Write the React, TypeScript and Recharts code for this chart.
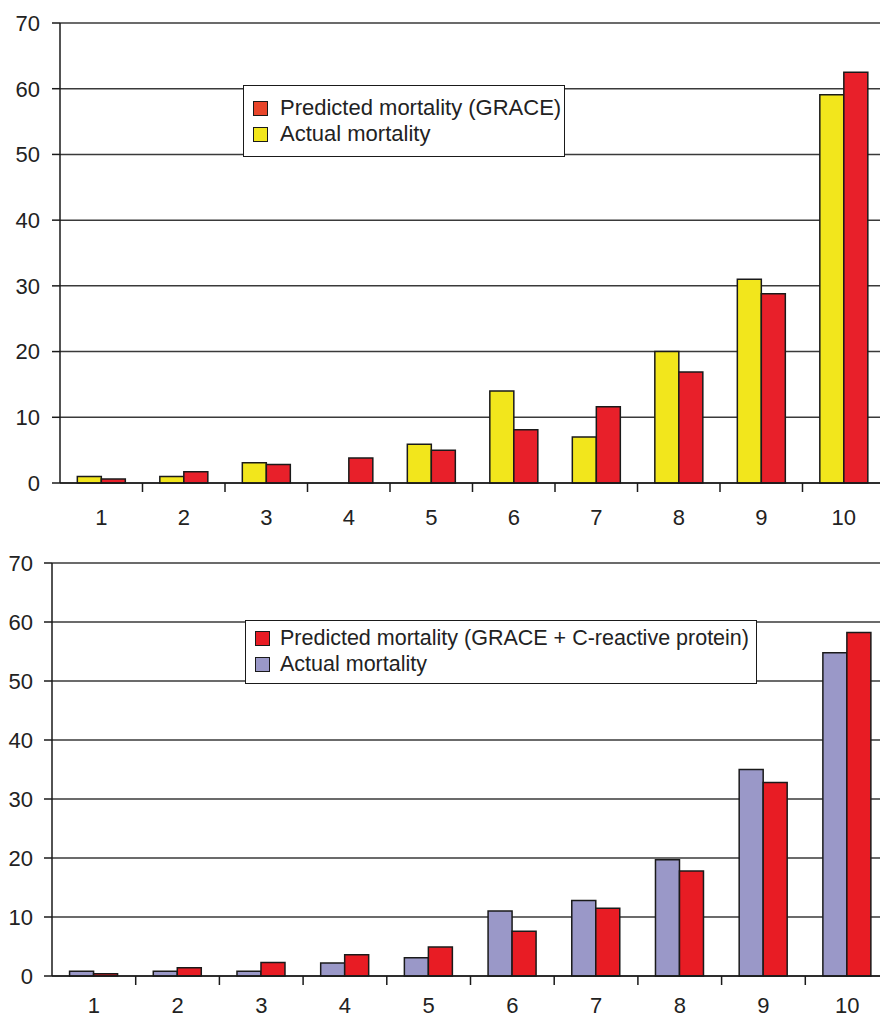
import React from "react";
import { BarChart, Bar, XAxis, YAxis, CartesianGrid, Legend } from "recharts";

// deciles of risk
const DECILES = ["1", "2", "3", "4", "5", "6", "7", "8", "9", "10"];

// top panel: GRACE alone
const GRACE_PREDICTED = [0.6, 1.7, 2.8, 3.8, 5.0, 8.1, 11.6, 16.9, 28.8, 62.5];
const GRACE_ACTUAL = [1.0, 1.0, 3.1, 0, 5.9, 14.0, 7.0, 20.0, 31.0, 59.1];

// bottom panel: GRACE + CRP
const CRP_PREDICTED = [0.4, 1.4, 2.3, 3.6, 4.9, 7.6, 11.5, 17.8, 32.8, 58.2];
const CRP_ACTUAL = [0.8, 0.8, 0.8, 2.2, 3.1, 11.0, 12.8, 19.7, 35.0, 54.8];

const Y_TICKS = [0, 10, 20, 30, 40, 50, 60, 70];

const FONT = "'Liberation Sans', Arial, sans-serif";
const INK = "#1a1a1a";

// category tick: label in the middle, tick mark on the left edge of the band
function DecileTick(props: any) {
  const { x, y, payload, gap } = props;
  const half = payload && typeof payload.offset === "number" ? payload.offset : 0;
  return (
    <g>
      {half > 0 && payload.index > 0 && (
        <line x1={x - half} y1={y} x2={x - half} y2={y + 9} stroke={INK} strokeWidth={1.5} />
      )}
      <text x={x} y={y + gap} dy="0.71em" textAnchor="middle" fill="#222" fontSize={22} fontFamily={FONT}>
        {payload.value}
      </text>
    </g>
  );
}

interface PanelProps {
  predicted: number[];
  actual: number[];
  predictedLabel: string;
  actualColor: string;
  predictedColor: string;
  swatchRed: string;
  width: number;
  height: number;
  yAxisWidth: number;
  xAxisHeight: number;
  labelGap: number;
  yLabelGap: number;
  legendFont: number;
  legendBox: { left: number; top: number; width: number; height: number; padTop: number; textLeft: number };
}

function MortalityPanel(p: PanelProps) {
  const rows = DECILES.map((d, i) => ({ decile: d, actual: p.actual[i], predicted: p.predicted[i] }));

  const renderLegend = () => {
    const items = [
      { label: p.predictedLabel, color: p.swatchRed },
      { label: "Actual mortality", color: p.actualColor }
    ];
    return (
      <div
        style={{
          boxSizing: "border-box",
          width: p.legendBox.width,
          height: p.legendBox.height,
          border: `1.5px solid ${INK}`,
          background: "#fff",
          paddingTop: p.legendBox.padTop,
          fontFamily: FONT,
          fontSize: p.legendFont,
          color: "#222"
        }}
      >
        {items.map((it) => (
          <div key={it.label} style={{ position: "relative", height: 26, lineHeight: "26px", whiteSpace: "nowrap" }}>
            <span
              style={{
                position: "absolute",
                left: 9,
                top: 6,
                width: 13,
                height: 13,
                background: it.color,
                border: `1px solid ${INK}`
              }}
            />
            <span style={{ position: "absolute", left: p.legendBox.textLeft }}>{it.label}</span>
          </div>
        ))}
      </div>
    );
  };

  return (
    <BarChart
      width={p.width}
      height={p.height}
      data={rows}
      margin={{ top: 23, right: 0, left: 0, bottom: 0 }}
      barCategoryGap="21%"
      barGap={0}
    >
      <CartesianGrid vertical={false} stroke="#3a3a3a" strokeWidth={1.5} />
      <XAxis
        dataKey="decile"
        height={p.xAxisHeight}
        stroke={INK}
        strokeWidth={1.5}
        tickLine={false}
        tickSize={0}
        tickMargin={0}
        interval={0}
        tick={<DecileTick gap={p.labelGap} />}
      />
      <YAxis
        width={p.yAxisWidth}
        domain={[0, 70]}
        ticks={Y_TICKS}
        tickSize={8}
        tickMargin={p.yLabelGap}
        stroke={INK}
        strokeWidth={1.5}
        tick={{ fill: "#222", fontSize: 22, fontFamily: FONT }}
      />
      <Legend
        layout="vertical"
        align="center"
        verticalAlign="middle"
        content={renderLegend}
        wrapperStyle={{ left: p.legendBox.left, top: p.legendBox.top, width: p.legendBox.width }}
      />
      <Bar dataKey="actual" fill={p.actualColor} stroke={INK} strokeWidth={1.5} isAnimationActive={false} />
      <Bar dataKey="predicted" fill={p.predictedColor} stroke={INK} strokeWidth={1.5} isAnimationActive={false} />
    </BarChart>
  );
}

export default function App() {
  return (
    <div
      style={{
        position: "absolute",
        left: 0,
        top: 0,
        width: 880,
        height: 1018,
        overflow: "hidden",
        background: "#fff"
      }}
    >
      <div style={{ position: "absolute", left: 0, top: 0 }}>
        <MortalityPanel
          predicted={GRACE_PREDICTED}
          actual={GRACE_ACTUAL}
          predictedLabel="Predicted mortality (GRACE)"
          actualColor="#f2e61c"
          predictedColor="#e8202a"
          swatchRed="#e8452a"
          width={885}
          height={540}
          yAxisWidth={60}
          xAxisHeight={57}
          labelGap={26}
          yLabelGap={12}
          legendFont={22}
          legendBox={{ left: 243, top: 85, width: 322, height: 72, padTop: 9, textLeft: 36 }}
        />
      </div>
      <div style={{ position: "absolute", left: 0, top: 540 }}>
        <MortalityPanel
          predicted={CRP_PREDICTED}
          actual={CRP_ACTUAL}
          predictedLabel="Predicted mortality (GRACE + C-reactive protein)"
          actualColor="#9a98c8"
          predictedColor="#e81c24"
          swatchRed="#e81c24"
          width={889}
          height={478}
          yAxisWidth={52}
          xAxisHeight={42}
          labelGap={21}
          yLabelGap={11}
          legendFont={21.5}
          legendBox={{ left: 245, top: 80, width: 512, height: 64, padTop: 4, textLeft: 34 }}
        />
      </div>
    </div>
  );
}
